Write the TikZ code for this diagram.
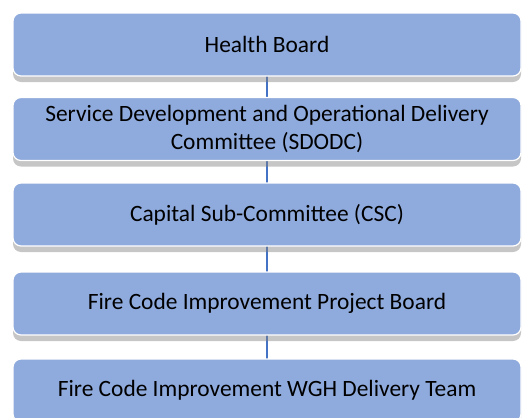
\documentclass[tikz,border=0pt]{standalone}
\usepackage{fontspec}
\setmainfont{Carlito}
\usetikzlibrary{shadows,backgrounds}
\definecolor{boxblue}{HTML}{8FAADC}
\definecolor{linkblue}{HTML}{4472C4}
\begin{document}
\begin{tikzpicture}[x=1pt,y=-1pt,inner sep=0pt,outer sep=0pt,
board/.style={draw=white,line width=1.2pt,fill=boxblue,rectangle,rounded corners=8pt,
  minimum width=508pt,minimum height=63pt,align=center,
  font=\fontsize{23.4}{27.5}\selectfont,
  drop shadow={shadow xshift=0pt,shadow yshift=-6pt,fill=black!50,opacity=0.45}},
link/.style={draw=linkblue,line width=2pt}]
\clip (0,0) rectangle (523,418);
\node[board] (hb) at (267,44.5) {Health Board};
\node[board] (sdodc) at (267,129) {Service Development and Operational Delivery\\Committee (SDODC)};
\node[board] (csc) at (267,214.5) {Capital Sub-Committee (CSC)};
\node[board] (pb) at (267,303.5) {Fire Code Improvement Project Board};
\node[board] (team) at (267,390.5) {Fire Code Improvement WGH Delivery Team};
\begin{scope}[on background layer]
\draw[link] (hb) -- (sdodc);
\draw[link] (sdodc) -- (csc);
\draw[link] (csc) -- (pb);
\draw[link] (pb) -- (team);
\end{scope}
\end{tikzpicture}
\end{document}
